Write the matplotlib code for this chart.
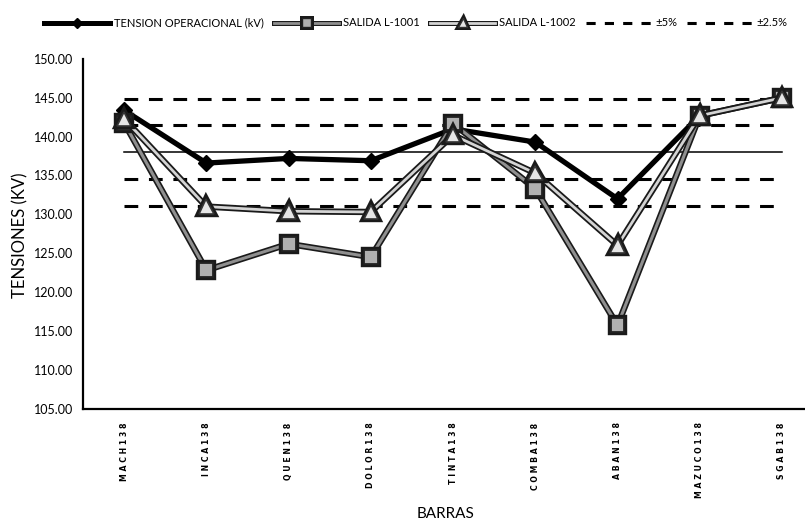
import numpy as np
import matplotlib.pyplot as plt
import matplotlib.patheffects as pe
from matplotlib.lines import Line2D

# bus voltages (kV)
barras = ["MACH138", "INCA138", "QUEN138", "DOLOR138", "TINTA138",
          "COMBA138", "ABAN138", "MAZUCO138", "SGAB138"]
tension_operacional = [143.4, 136.6, 137.2, 136.9, 141.0, 139.3, 132.0, 142.7, 145.0]
salida_l1001 = [141.8, 122.8, 126.2, 124.5, 141.7, 133.3, 115.7, 142.7, 145.0]
salida_l1002 = [142.3, 131.0, 130.4, 130.3, 140.2, 135.3, 126.0, 142.7, 145.0]

v_nominal = 138.0
bandas = {"±5%": 0.05, "±2.5%": 0.025}

plt.rcParams["font.family"] = ["Lato", "DejaVu Sans"]

fig = plt.figure(figsize=(8.05, 5.24), dpi=100)
ax = fig.add_axes([83 / 805, 115.5 / 524, 1 - 83 / 805, 349.5 / 524])

x = np.arange(len(barras))

# nominal voltage and tolerance bands
ax.plot([x[0], x[-1]], [v_nominal] * 2, color="black", lw=1.1, zorder=2)
for frac in bandas.values():
    for sign in (1, -1):
        lvl = v_nominal * (1 + sign * frac)
        ax.plot([x[0], x[-1]], [lvl] * 2, color="black", lw=2.2,
                dashes=(4.5, 3.5), zorder=2)

outline = [pe.Stroke(linewidth=4.6, foreground="#1a1a1a"), pe.Normal()]
outline_leg = [pe.Stroke(linewidth=3.6, foreground="#1a1a1a"), pe.Normal()]

ax.plot(x, tension_operacional, color="black", lw=3.8, marker="D",
        ms=8.5, mfc="black", mec="black", zorder=3)
ax.plot(x, salida_l1001, color="#8f8f8f", lw=2.2, marker="s", ms=10,
        mfc="#b0b0b0", mec="#222222", mew=1.3, path_effects=outline, zorder=4)
ax.plot(x, salida_l1002, color="#d4d4d4", lw=2.0, marker="^", ms=10.5,
        mfc="#e6e6e6", mec="#333333", mew=1.2, path_effects=outline, zorder=5)

ax.set_xlim(-0.5, 8.28)
ax.set_ylim(105, 150)
ax.set_yticks(np.arange(105, 150.1, 5))
ax.set_yticklabels([f"{v:.2f}" for v in np.arange(105, 150.1, 5)], fontsize=9)
ax.set_xticks(x)
ax.set_xticklabels([" ".join(b) for b in barras], rotation=90, fontsize=5.6,
                   fontweight="bold", family="DejaVu Sans")
ax.tick_params(axis="both", length=0)
ax.tick_params(axis="y", pad=7)
ax.tick_params(axis="x", pad=10)

for side in ("top", "right"):
    ax.spines[side].set_visible(False)
for side in ("left", "bottom"):
    ax.spines[side].set_linewidth(1.6)
    ax.spines[side].set_color("black")

fig.text(20 / 805, 1 - 235 / 524, "TENSIONES (KV)", fontsize=12,
         rotation=90, ha="center", va="center")
fig.text(446 / 805, 1 - 514 / 524, "BARRAS", fontsize=11, ha="center", va="center")

handles = [
    Line2D([], [], color="black", lw=3.6, marker="D", ms=5),
    Line2D([], [], color="#8f8f8f", lw=2.0, marker="s", ms=6, mfc="#b0b0b0",
           mec="#222222", path_effects=outline_leg),
    Line2D([], [], color="#d4d4d4", lw=2.0, marker="^", ms=6, mfc="#e6e6e6",
           mec="#333333", path_effects=outline_leg),
    Line2D([], [], color="black", lw=2.2, dashes=(3, 3)),
    Line2D([], [], color="black", lw=2.2, dashes=(3, 3)),
]
labels = ["TENSION OPERACIONAL (kV)", "SALIDA L-1001", "SALIDA L-1002",
          "±5%", "±2.5%"]
fig.legend(handles, labels, loc="center", bbox_to_anchor=(416 / 805, 1 - 23 / 524),
           ncol=5, frameon=False, fontsize=8, handlelength=5.9,
           handletextpad=0.35, columnspacing=0.9)

fig.savefig("out.png", dpi=100)
